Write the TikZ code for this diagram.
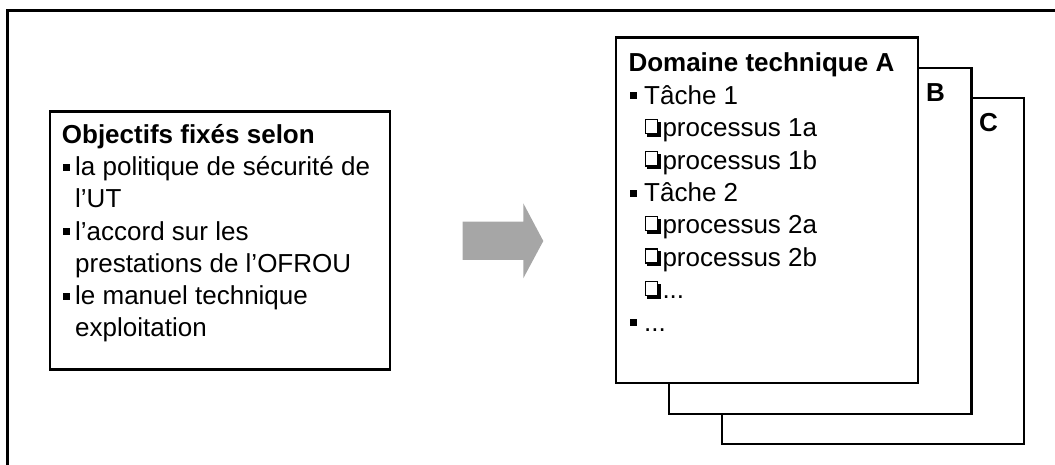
\documentclass[tikz,border=0pt]{standalone}
\usepackage{fontspec}
\setmainfont{Liberation Sans}
\definecolor{arrowgray}{HTML}{A6A6A6}
\newcommand\bul[1]{\makebox[#1][l]{\hspace{1pt}\rule[5pt]{7pt}{7pt}}}
\newcommand\procbox{\makebox[18pt][l]{\tikz[baseline=0pt,x=1pt,y=1pt]{\draw[line width=1.3pt] (0.7,3.2) rectangle (13.3,17.3); \fill (2.5,0) rectangle (16.5,3.2); \fill (13.3,0) rectangle (16.5,15);}}}

\begin{document}
\begin{tikzpicture}[x=1pt,y=-1pt,
  page/.style={draw,fill=white,line width=2.4pt,outer sep=0pt,inner sep=0pt,minimum width=302.5pt,minimum height=345.5pt,anchor=north west},
  txt/.style={font=\fontsize{26}{32.4}\selectfont,align=left,anchor=north west,inner sep=0pt}]
  \useasboundingbox (0,0) rectangle (1055,465);
  \draw[line width=2.6pt] (7.5,465) -- (7.5,10.8) -- (1055,10.8);

  \node[draw,line width=2.6pt,outer sep=0pt,inner sep=0pt,minimum width=340pt,minimum height=257.6pt,anchor=north west] (goals) at (50,111.7) {};
  \node[txt,font=\fontsize{26}{32.2}\selectfont] (goalstext) at (61.7,123.3) {\rule{0pt}{20pt}\textbf{Objectifs fixés selon}\\
    \bul{13.3pt}la politique de sécurité de\\
    \hspace*{13.3pt}l’UT\\
    \bul{13.3pt}l’accord sur les\\
    \hspace*{13.3pt}prestations de l’OFROU\\
    \bul{13.3pt}le manuel technique\\
    \hspace*{13.3pt}exploitation};

  \fill[arrowgray] (462.7,221.7) -- (523.3,221.7) -- (523.3,203.3) -- (543.3,241) -- (523.3,278.3) -- (523.3,260) -- (462.7,260) -- cycle;

  \node[page] (pageC) at (721.7,98.3) {};
  \node[page] (pageB) at (669,68.3) {};
  \node[page] (pageA) at (615.7,37.7) {};
  \node[txt,anchor=base west,font=\fontsize{26}{32.4}\selectfont\bfseries] (labelB) at (926,101.7) {B};
  \node[txt,anchor=base west,font=\fontsize{26}{32.4}\selectfont\bfseries] (labelC) at (979,131.7) {C};

  \node[txt] (pageAtext) at (628.3,51.7) {\rule{0pt}{20pt}\textbf{Domaine technique A}\\
    \bul{15.7pt}Tâche 1\\
    \hspace*{16pt}\procbox processus 1a\\
    \hspace*{16pt}\procbox processus 1b\\
    \bul{15.7pt}Tâche 2\\
    \hspace*{16pt}\procbox processus 2a\\
    \hspace*{16pt}\procbox processus 2b\\
    \hspace*{16pt}\procbox...\\
    \bul{15.7pt}...};
\end{tikzpicture}
\end{document}
